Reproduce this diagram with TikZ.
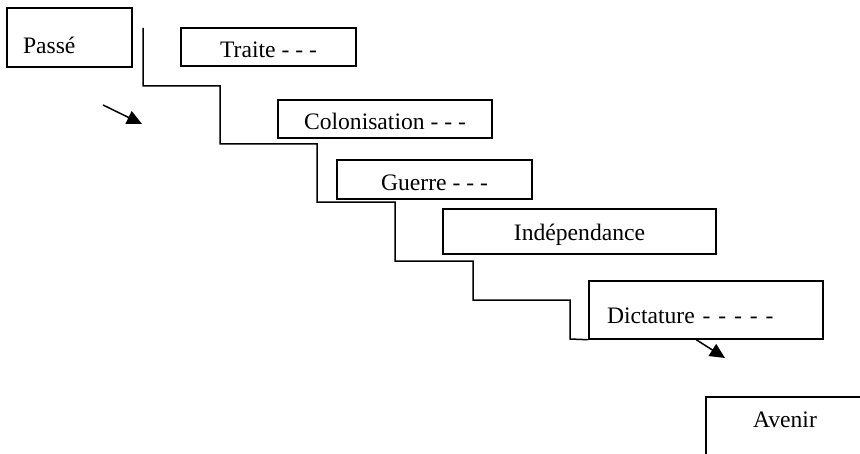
\documentclass[tikz,border=0pt]{standalone}
\usepackage{fontspec}
\setmainfont{Liberation Serif}
\usepackage{tikz}
\usetikzlibrary{arrows.meta}

\begin{document}
\begin{tikzpicture}[x=0.5pt,y=-0.5pt,line width=0.75pt,
font=\fontsize{11.8}{14}\selectfont]
\tikzstyle{every node}=[rectangle,draw,inner sep=0pt,text depth=0pt]
\tikzstyle{fleche}=[-{Triangle[length=7.5pt,width=7pt]}]
\useasboundingbox (0,0) rectangle (860,454);
    \node (Passe) [minimum width=62.5pt,minimum height=29.5pt,text height=16pt,
        text width=46.5pt,align=left] at (69.5,37.5) {Passé};
    \node (Traite) [minimum width=87.5pt,minimum height=19pt,text height=11pt]
        at (268.5,47) {Traite - - -};
    \node (Colonisation) [minimum width=107pt,minimum height=19pt,text height=11pt]
        at (385,119) {Colonisation - - -};
    \node (Guerre) [minimum width=97.5pt,minimum height=19.5pt,text height=11.2pt]
        at (434.5,179.5) {Guerre - - -};
    \node (Independance) [minimum width=136.5pt,minimum height=22.5pt,text height=8.5pt]
        at (579.5,231.5) {Indépendance};
    \node (Dictature) [minimum width=117pt,minimum height=29pt,text height=13pt,
        text width=99pt,align=left] at (706,310) {Dictature - - - - -};
    \node (Avenir) [minimum width=79pt,minimum height=36.5pt,text height=0pt,
        text depth=6.5pt] at (785,433.5) {Avenir};
   % the staircase
   \coordinate (Depart) at (143,28);
   \draw (Depart) -- (143,86) -- (220,86) -- (220,144) -- (317,144) -- (317,202)
       -- (395,202) -- (395,261) -- (473,261) -- (473,300) -- (570,300)
       -- (570,339) -- (Dictature.south west);
   % arrows
   \coordinate (Fleche1) at (103,105);
   \coordinate (Pointe1) at (142,124);
   \draw[fleche] (Fleche1) -- (Pointe1);
   \coordinate (Pointe2) at (725,358);
   \draw[fleche] ([xshift=54pt]Dictature.south west) -- (Pointe2);

\end{tikzpicture}
\end{document}
